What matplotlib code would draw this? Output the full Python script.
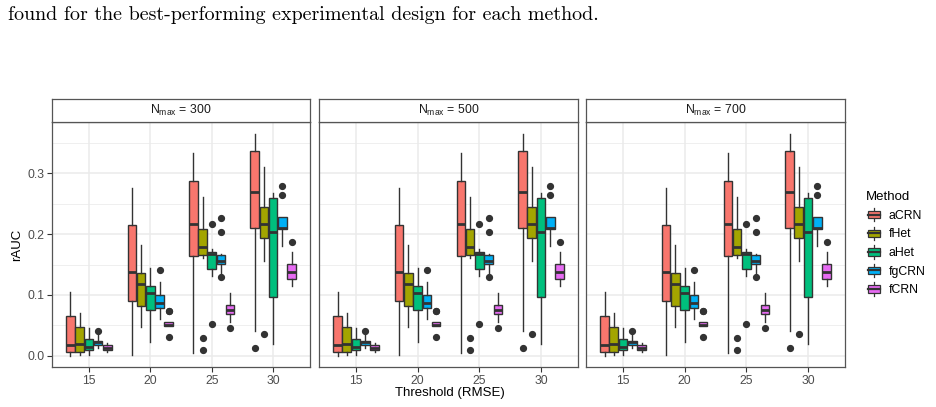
import matplotlib
matplotlib.use("Agg")
import matplotlib.pyplot as plt
from matplotlib.patches import Patch, Rectangle
from matplotlib.lines import Line2D
from matplotlib.legend_handler import HandlerBase

plt.rcParams["font.family"] = ["Liberation Sans", "DejaVu Sans"]

# ---------------- data ----------------
thresholds = ["15", "20", "25", "30"]
methods = ["aCRN", "fHet", "aHet", "fgCRN", "fCRN"]
colors = ["#F8766D", "#A3A500", "#00BF7D", "#00B0F6", "#E76BF3"]
panels = [300, 500, 700]

# five-number summaries per threshold: (whislo, q1, med, q3, whishi)
aCRN_stats = [(0.000, 0.006, 0.018, 0.065, 0.105),
              (0.0015, 0.090, 0.138, 0.215, 0.276),
              (0.005, 0.164, 0.2165, 0.287, 0.3335),
              (0.041, 0.2104, 0.269, 0.337, 0.365)]
aCRN_fliers = [[], [], [], [0.012]]

fHet_stats = [(0.001, 0.006, 0.019, 0.047, 0.070),
              (0.048, 0.082, 0.118, 0.136, 0.182),
              (0.160, 0.165, 0.1786, 0.2077, 0.2615),
              (0.1555, 0.193, 0.216, 0.245, 0.310)]
fHet_fliers = [[], [], [0.0286, 0.0093], [0.035]]

aHet_stats = [(0.0005, 0.010, 0.015, 0.027, 0.046),
              (0.022, 0.075, 0.103, 0.114, 0.1445),
              (0.132, 0.1434, 0.168, 0.1714, 0.176),
              (0.019, 0.097, 0.204, 0.259, 0.2676)]
aHet_fliers = [[], [], [0.216, 0.052], []]

fgCRN_stats = [(0.0126, 0.017, 0.0225, 0.025, 0.035),
               (0.060, 0.0786, 0.086, 0.0995, 0.121),
               (0.135, 0.151, 0.156, 0.165, 0.167),
               (0.181, 0.209, 0.2104, 0.228, 0.228)]
fgCRN_fliers = [[0.041], [0.141], [0.226, 0.203, 0.130], [0.280, 0.265]]

fCRN_stats = [(0.006, 0.009, 0.013, 0.017, 0.021),
              (0.0495, 0.0495, 0.051, 0.0555, 0.0555),
              (0.056, 0.0687, 0.0753, 0.0835, 0.103),
              (0.115, 0.126, 0.138, 0.1505, 0.171)]
fCRN_fliers = [[], [0.073, 0.074, 0.031], [0.046], [0.187]]

all_stats = [aCRN_stats, fHet_stats, aHet_stats, fgCRN_stats, fCRN_stats]
all_fliers = [aCRN_fliers, fHet_fliers, aHet_fliers, fgCRN_fliers, fCRN_fliers]

caption = "found for the best-performing experimental design for each method."

# ---------------- layout ----------------
W, H = 936, 407
fig = plt.figure(figsize=(W / 100, H / 100), dpi=100)
fig.patch.set_facecolor("white")

panel_x = [(52, 310), (319, 578), (586, 845)]
ptop, pbot, stop = 122, 367, 99.5
dark = "#333333"
grid = "#EBEBEB"

fig.text(8 / W, 1 - 19.5 / H, caption, family="cmr10", fontsize=14.4,
         va="baseline", ha="left", color="black")

n_m = len(methods)
dodge = 0.15
for p, (x0, x1) in enumerate(panel_x):
    ax = fig.add_axes([x0 / W, 1 - pbot / H, (x1 - x0) / W, (pbot - ptop) / H])
    ax.set_facecolor("white")
    for i in range(n_m):
        stats = []
        for k in range(len(thresholds)):
            lo, q1, med, q3, hi = all_stats[i][k]
            stats.append(dict(whislo=lo, q1=q1, med=med, q3=q3, whishi=hi,
                              fliers=all_fliers[i][k]))
        pos = [k + 1 + (i - (n_m - 1) / 2) * dodge for k in range(len(thresholds))]
        ax.bxp(stats, positions=pos, widths=0.14, patch_artist=True,
               showcaps=False, manage_ticks=False,
               boxprops=dict(facecolor=colors[i], edgecolor=dark, linewidth=1.0),
               medianprops=dict(color=dark, linewidth=2.0, solid_capstyle="butt"),
               whiskerprops=dict(color=dark, linewidth=1.0),
               flierprops=dict(marker="o", markerfacecolor=dark,
                               markeredgecolor=dark, markersize=4.2))
    ax.set_xlim(0.4, 4.6)
    ax.set_ylim(-0.0185, 0.3845)
    ax.set_xticks(range(1, len(thresholds) + 1))
    ax.set_xticklabels(thresholds)
    ax.set_yticks([0.0, 0.1, 0.2, 0.3])
    ax.set_yticks([0.05, 0.15, 0.25, 0.35], minor=True)
    ax.set_yticklabels(["0.0", "0.1", "0.2", "0.3"])
    ax.grid(True, which="major", color=grid, linewidth=1.1)
    ax.grid(True, which="minor", axis="y", color=grid, linewidth=0.55)
    ax.set_axisbelow(True)
    ax.tick_params(axis="both", which="major", color=dark, length=3.5, width=0.8,
                   labelcolor="#4D4D4D", labelsize=8.7, pad=2)
    ax.tick_params(axis="both", which="minor", length=0)
    if p > 0:
        ax.tick_params(axis="y", labelleft=False, length=0)
    for s in ax.spines.values():
        s.set_color("#555555")
        s.set_linewidth(0.9)
    # strip
    sax = fig.add_axes([x0 / W, 1 - ptop / H, (x1 - x0) / W, (ptop - stop) / H])
    sax.set_facecolor("white")
    sax.set_xticks([])
    sax.set_yticks([])
    for s in sax.spines.values():
        s.set_color("#555555")
        s.set_linewidth(0.9)
    sax.text(0.5, 0.5, r"$\mathregular{N_{max}}$ = %d" % panels[p],
             ha="center", va="center", fontsize=8.8, color="#1A1A1A",
             transform=sax.transAxes)

fig.text(17 / W, 1 - 244.5 / H, "rAUC", rotation=90, ha="center", va="center",
         fontsize=9.5, color="black")
fig.text(449.5 / W, 1 - 393 / H, "Threshold (RMSE)", ha="center", va="center",
         fontsize=9.5, color="black")


class BoxHandler(HandlerBase):
    def create_artists(self, legend, orig_handle, xdescent, ydescent, width,
                       height, fontsize, trans):
        fc = orig_handle.get_facecolor()
        cx = width / 2 - xdescent
        y0 = -ydescent
        whisk = Line2D([cx, cx], [y0, y0 + height], color=dark, lw=0.9,
                       transform=trans)
        bw = width * 0.78
        bh = height * 0.55
        rect = Rectangle((cx - bw / 2, y0 + (height - bh) / 2), bw, bh,
                         facecolor=fc, edgecolor=dark, lw=0.9, transform=trans)
        med = Line2D([cx - bw / 2, cx + bw / 2], [y0 + height / 2] * 2,
                     color=dark, lw=1.6, transform=trans)
        return [whisk, rect, med]


handles = [Patch(facecolor=c) for c in colors]
leg = fig.legend(handles, methods, handler_map={Patch: BoxHandler()},
                 title="Method", loc="upper left",
                 bbox_to_anchor=(866 / W, 1 - 191 / H), frameon=False,
                 fontsize=8.8, title_fontsize=9.5, handlelength=1.25,
                 handleheight=1.3, labelspacing=0.4, handletextpad=0.6,
                 borderpad=0, borderaxespad=0, alignment="left")

fig.savefig("out.png", dpi=100)
